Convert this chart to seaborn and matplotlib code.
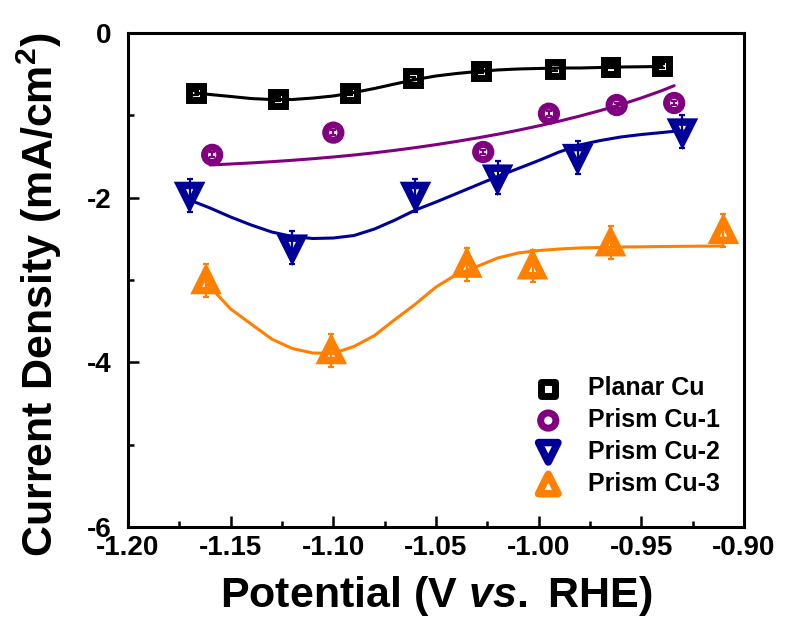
import numpy as np
import pandas as pd
import matplotlib
matplotlib.use("Agg")
import matplotlib.pyplot as plt
import seaborn as sns

# ---- measured points (potential in V vs. RHE, current density in mA/cm2) ----
planar_x = [-1.167, -1.127, -1.092, -1.061, -1.028, -0.992, -0.965, -0.940]
planar_y = [-0.73, -0.80, -0.73, -0.55, -0.46, -0.44, -0.41, -0.40]
planar_err = [0.02, 0.02, 0.02, 0.02, 0.02, 0.02, 0.02, 0.02]

prism1_x = [-1.159, -1.100, -1.027, -0.995, -0.962, -0.934]
prism1_y = [-1.48, -1.21, -1.445, -0.98, -0.875, -0.85]
prism1_err = [0.03, 0.03, 0.03, 0.03, 0.03, 0.03]

prism2_x = [-1.170, -1.120, -1.060, -1.020, -0.981, -0.930]
prism2_y = [-1.97, -2.61, -1.97, -1.76, -1.51, -1.20]
prism2_err = [0.20, 0.20, 0.20, 0.20, 0.20, 0.20]

prism3_x = [-1.162, -1.101, -1.035, -1.003, -0.965, -0.910]
prism3_y = [-3.01, -3.86, -2.81, -2.83, -2.55, -2.40]
prism3_err = [0.20, 0.20, 0.20, 0.20, 0.20, 0.20]

# ---- fitted trend lines ----
planar_fit_x = [-1.167, -1.16, -1.15, -1.14, -1.13, -1.12, -1.11, -1.10, -1.09,
                -1.08, -1.07, -1.06, -1.05, -1.04, -1.03, -1.02, -1.01, -1.00,
                -0.99, -0.98, -0.97, -0.96, -0.95, -0.94]
planar_fit_y = [-0.729, -0.747, -0.771, -0.796, -0.808, -0.808, -0.790, -0.765,
                -0.723, -0.674, -0.619, -0.565, -0.522, -0.492, -0.468, -0.449,
                -0.437, -0.431, -0.425, -0.425, -0.419, -0.413, -0.410, -0.407]

prism1_fit_x = [-1.16, -1.15, -1.14, -1.13, -1.12, -1.11, -1.10, -1.09, -1.08,
                -1.07, -1.06, -1.05, -1.04, -1.03, -1.02, -1.01, -1.00, -0.99,
                -0.98, -0.97, -0.96, -0.95, -0.94, -0.934]
prism1_fit_y = [-1.603, -1.591, -1.578, -1.563, -1.546, -1.527, -1.506, -1.482,
                -1.455, -1.425, -1.392, -1.356, -1.317, -1.275, -1.230, -1.181,
                -1.128, -1.071, -1.009, -0.942, -0.870, -0.789, -0.700, -0.640]

prism2_fit_x = [-1.17, -1.16, -1.15, -1.14, -1.13, -1.12, -1.11, -1.10, -1.09,
                -1.08, -1.07, -1.06, -1.05, -1.04, -1.03, -1.02, -1.01, -1.00,
                -0.99, -0.98, -0.97, -0.96, -0.95, -0.94, -0.93]
prism2_fit_y = [-2.028, -2.126, -2.235, -2.332, -2.417, -2.472, -2.496, -2.490,
                -2.460, -2.381, -2.272, -2.150, -2.053, -1.950, -1.846, -1.743,
                -1.646, -1.549, -1.445, -1.360, -1.306, -1.263, -1.233, -1.209,
                -1.184]

prism3_fit_x = [-1.162, -1.16, -1.15, -1.14, -1.13, -1.12, -1.11, -1.10, -1.09,
                -1.08, -1.07, -1.06, -1.05, -1.04, -1.03, -1.02, -1.01, -1.00,
                -0.99, -0.98, -0.97, -0.96, -0.95, -0.94, -0.93, -0.91]
prism3_fit_y = [-3.037, -3.085, -3.352, -3.535, -3.717, -3.832, -3.887, -3.891,
                -3.808, -3.675, -3.480, -3.292, -3.085, -2.933, -2.836, -2.733,
                -2.672, -2.642, -2.624, -2.611, -2.605, -2.599, -2.597, -2.593,
                -2.591, -2.587]

labels = ["Planar Cu", "Prism Cu-1", "Prism Cu-2", "Prism Cu-3"]
colors = ["#000000", "#800080", "#000099", "#FF8000"]
markers = ["s", "o", "v", "^"]
marker_sizes = [10, 11, 14, 14]
edge_widths = [5.0, 5.0, 5.4, 5.4]

x_ticks = [-1.20, -1.15, -1.10, -1.05, -1.00, -0.95, -0.90]
y_ticks = [0, -2, -4, -6]

series = [
    (planar_x, planar_y, planar_err, planar_fit_x, planar_fit_y),
    (prism1_x, prism1_y, prism1_err, prism1_fit_x, prism1_fit_y),
    (prism2_x, prism2_y, prism2_err, prism2_fit_x, prism2_fit_y),
    (prism3_x, prism3_y, prism3_err, prism3_fit_x, prism3_fit_y),
]

sns.set_theme(style="ticks")
plt.rcParams["font.family"] = ["Liberation Sans", "DejaVu Sans"]
plt.rcParams["font.weight"] = "bold"
plt.rcParams["text.color"] = "black"
plt.rcParams["axes.labelcolor"] = "black"
plt.rcParams["xtick.color"] = "black"
plt.rcParams["ytick.color"] = "black"
plt.rcParams["mathtext.fontset"] = "custom"
plt.rcParams["mathtext.rm"] = "Liberation Sans:bold"
plt.rcParams["mathtext.it"] = "Liberation Sans:italic:bold"
plt.rcParams["mathtext.bf"] = "Liberation Sans:bold"

fig, ax = plt.subplots(figsize=(7.86, 6.31), dpi=100)
fig.subplots_adjust(left=128 / 786, right=744 / 786,
                    top=1 - 33 / 631, bottom=1 - 527 / 631)

for (px, py, pe, fx, fy), lab, col, mk, ms, ew in zip(
        series, labels, colors, markers, marker_sizes, edge_widths):
    fit = pd.DataFrame({"x": fx, "y": fy})
    sns.lineplot(data=fit, x="x", y="y", color=col, lw=2.2, sort=False,
                 estimator=None, ax=ax, legend=False, zorder=2)
    ax.errorbar(px, py, yerr=pe, fmt="none", ecolor=col, elinewidth=1.6,
                capsize=2.5, capthick=1.6, zorder=3)
    pts = pd.DataFrame({"x": px, "y": py})
    sns.scatterplot(data=pts, x="x", y="y", marker=mk, s=ms ** 2,
                    facecolors="none", edgecolor=col, linewidth=ew,
                    joinstyle="miter", label=lab, ax=ax, zorder=4)

ax.set_xlim(-1.20, -0.90)
ax.set_ylim(-6, 0)
ax.set_xticks(x_ticks)
ax.set_xticklabels([f"{t:.2f}" for t in x_ticks])
ax.set_yticks(y_ticks)
ax.set_yticklabels([f"{t:d}" for t in y_ticks])
ax.set_xticks(np.arange(-1.175, -0.9, 0.05), minor=True)
ax.set_yticks([-1, -3, -5], minor=True)

ax.tick_params(axis="both", which="major", direction="in", length=8, width=1.8,
               labelsize=20, top=False, right=False)
ax.tick_params(axis="y", which="major", pad=12)
ax.tick_params(axis="x", which="major", pad=6)
ax.tick_params(axis="both", which="minor", direction="in", length=4.5,
               width=1.8, top=False, right=False)
for lbl in ax.get_xticklabels() + ax.get_yticklabels():
    lbl.set_fontweight("bold")

for sp in ax.spines.values():
    sp.set_linewidth(2.2)
    sp.set_color("black")

ax.set_xlabel(r"Potential (V $\mathit{vs.}$ RHE)", fontsize=31,
              fontweight="bold", labelpad=9)
ax.set_ylabel(r"Current Density (mA/cm$^2$)", fontsize=31,
              fontweight="bold")
ax.yaxis.set_label_coords(64 / 786, 1 - 295 / 631, transform=fig.transFigure)

leg = ax.legend(loc="lower right", frameon=False, fontsize=18,
                handletextpad=0.6, labelspacing=0.31,
                bbox_to_anchor=(0.998, 0.018))
for t in leg.get_texts():
    t.set_fontweight("bold")

fig.savefig("out.png", dpi=100)
